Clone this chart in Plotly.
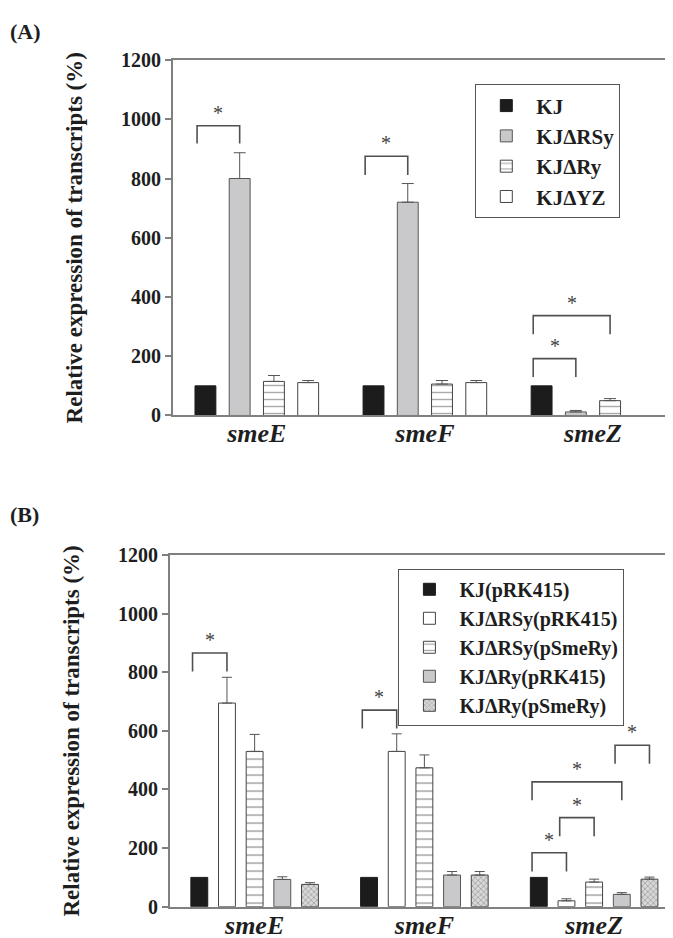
import plotly.graph_objects as go

# ---------------- data ----------------
genes = ["smeE", "smeF", "smeZ"]
y_ticks = [0, 200, 400, 600, 800, 1000, 1200]

# Panel A
a_names = ["KJ", "KJΔRSy", "KJΔRy", "KJΔYZ"]
a_kj = [100, 100, 100]
a_kj_err = [0, 0, 0]
a_rsy = [800, 720, 12]
a_rsy_err = [87, 63, 5]
a_ry = [115, 106, 50]
a_ry_err = [20, 12, 7]
a_yz = [111, 111, None]
a_yz_err = [7, 7, 0]
# brackets: (gene index, bar i, bar j, top value, leg bottom value)
a_brackets = [(0, 0, 1, 978, 918), (1, 0, 1, 875, 812), (2, 0, 1, 192, 130), (2, 0, 2, 337, 274)]

# Panel B
b_names = ["KJ(pRK415)", "KJΔRSy(pRK415)", "KJΔRSy(pSmeRy)", "KJΔRy(pRK415)", "KJΔRy(pSmeRy)"]
b_kj = [100, 100, 100]
b_kj_err = [0, 0, 0]
b_rsy_p = [695, 530, 20]
b_rsy_p_err = [88, 60, 7]
b_rsy_s = [530, 474, 84]
b_rsy_s_err = [58, 44, 10]
b_ry_p = [93, 108, 42]
b_ry_p_err = [9, 12, 6]
b_ry_s = [76, 108, 94]
b_ry_s_err = [6, 12, 7]
b_brackets = [(0, 0, 1, 866, 803), (1, 0, 1, 671, 608), (2, 0, 1, 184, 120),
              (2, 1, 2, 304, 240), (2, 0, 3, 426, 363), (2, 3, 4, 551, 488)]

# ---------------- styling ----------------
W, H = 673, 938
SERIF = "Liberation Serif"
TXT = "#1e1e1e"
AX = "#808080"
ERRC = "#555555"

BARGAP, BARGROUPGAP = 0.185, 0.39

styles_a = [
    dict(color="#1c1c1c", line=dict(color="#1c1c1c", width=1)),
    dict(color="#c9c9cb", line=dict(color="#555555", width=1)),
    dict(color="white", line=dict(color="#444444", width=1),
         pattern=dict(shape="-", fgcolor="#555555", bgcolor="white", size=7, solidity=0.2)),
    dict(color="white", line=dict(color="#444444", width=1)),
]
styles_b = [
    dict(color="#1c1c1c", line=dict(color="#1c1c1c", width=1)),
    dict(color="white", line=dict(color="#444444", width=1)),
    dict(color="white", line=dict(color="#444444", width=1),
         pattern=dict(shape="-", fgcolor="#555555", bgcolor="white", size=8, solidity=0.2)),
    dict(color="#c9c9cb", line=dict(color="#555555", width=1)),
    dict(color="#c9c9cb", line=dict(color="#444444", width=1),
         pattern=dict(shape="x", fgcolor="#555555", bgcolor="#d8d8d8", size=4, solidity=0.3)),
]

fig = go.Figure()


def err(errs, w):
    return dict(type="data", symmetric=False, array=errs, arrayminus=[0] * len(errs),
                color=ERRC, thickness=1, width=w, visible=any(e > 0 for e in errs))


a_series = [(a_kj, a_kj_err), (a_rsy, a_rsy_err), (a_ry, a_ry_err), (a_yz, a_yz_err)]
for name, (vals, errs), st in zip(a_names, a_series, styles_a):
    fig.add_trace(go.Bar(x=genes, y=vals, name=name, marker=st, xaxis="x", yaxis="y",
                         legend="legend", offsetgroup="a" + name, error_y=err(errs, 6)))

b_series = [(b_kj, b_kj_err), (b_rsy_p, b_rsy_p_err), (b_rsy_s, b_rsy_s_err), (b_ry_p, b_ry_p_err), (b_ry_s, b_ry_s_err)]
for name, (vals, errs), st in zip(b_names, b_series, styles_b):
    fig.add_trace(go.Bar(x=genes, y=vals, name=name, marker=st, xaxis="x2", yaxis="y2",
                         legend="legend2", offsetgroup="b" + name, error_y=err(errs, 5)))


def bar_center(gi, bi, n):
    slot = (1 - BARGAP) / n
    return gi - (1 - BARGAP) / 2 + slot * (bi + 0.5)


shapes = []
annotations = []


def add_brackets(brackets, n, xref, yref):
    slot = (1 - BARGAP) / n
    bw = slot * (1 - BARGROUPGAP)
    for gi, i, j, top, leg in brackets:
        x0 = bar_center(gi, i, n) - 0.4 * bw
        x1 = bar_center(gi, j, n)
        shapes.append(dict(type="path", xref=xref, yref=yref,
                           path=f"M {x0},{leg} L {x0},{top} L {x1},{top} L {x1},{leg}",
                           line=dict(color="#505050", width=1.6)))
        annotations.append(dict(x=(x0 + x1) / 2, y=top, xref=xref, yref=yref, text="*",
                                showarrow=False, yanchor="bottom", yshift=0,
                                font=dict(family=SERIF, size=20, color="#444444")))


add_brackets(a_brackets, 4, "x", "y")
add_brackets(b_brackets, 5, "x2", "y2")

annotations.append(dict(x=0, y=1 - 13 / H, xref="paper", yref="paper", text="<b>(A)</b>",
                        showarrow=False, xanchor="left", yanchor="middle",
                        font=dict(family=SERIF, size=22, color=TXT)))
annotations.append(dict(x=0, y=1 - 507 / H, xref="paper", yref="paper", text="<b>(B)</b>",
                        showarrow=False, xanchor="left", yanchor="middle",
                        font=dict(family=SERIF, size=22, color=TXT)))


def xax(domain, anchor):
    return dict(domain=domain, anchor=anchor, type="category", range=[-0.5, 2.5],
                showline=True, mirror=True, linecolor=AX, linewidth=1.5, ticks="",
                showgrid=False, zeroline=False, ticklabelstandoff=-6,
                tickfont=dict(family=SERIF, size=26, color=TXT, weight="bold", style="italic"))


def yax(domain, anchor):
    return dict(domain=domain, anchor=anchor, range=[0, 1200], tickvals=y_ticks,
                showline=True, mirror=True, linecolor=AX, linewidth=1.5,
                ticks="outside", ticklen=6, tickcolor=AX, tickwidth=1.5,
                showgrid=False, zeroline=False,
                tickfont=dict(family=SERIF, size=20, color=TXT, weight="bold"),
                title=dict(text="Relative expression of transcripts (%)", standoff=32,
                           font=dict(family=SERIF, size=23, color=TXT, weight="bold")))


fig.update_layout(
    width=W, height=H, margin=dict(l=0, r=0, t=0, b=0),
    paper_bgcolor="white", plot_bgcolor="white",
    barmode="group", bargap=BARGAP, bargroupgap=BARGROUPGAP,
    xaxis=xax([165 / W, 670 / W], "y"),
    yaxis=yax([1 - 406 / H, 1 - 42 / H], "x"),
    xaxis2=xax([162 / W, 672 / W], "y2"),
    yaxis2=yax([1 - 909 / H, 1 - 549 / H], "x2"),
    legend=dict(x=468 / W, y=1 - 67 / H, xanchor="left", yanchor="top",
                bordercolor="#555555", borderwidth=1, bgcolor="white", itemwidth=50,
                font=dict(family=SERIF, size=21, color=TXT, weight="bold"), tracegroupgap=0),
    legend2=dict(x=391 / W, y=1 - 563 / H, xanchor="left", yanchor="top",
                 bordercolor="#555555", borderwidth=1, bgcolor="white", itemwidth=50,
                 font=dict(family=SERIF, size=20, color=TXT, weight="bold"), tracegroupgap=0),
    shapes=shapes, annotations=annotations,
    showlegend=True,
)

fig.write_html("out.html")
